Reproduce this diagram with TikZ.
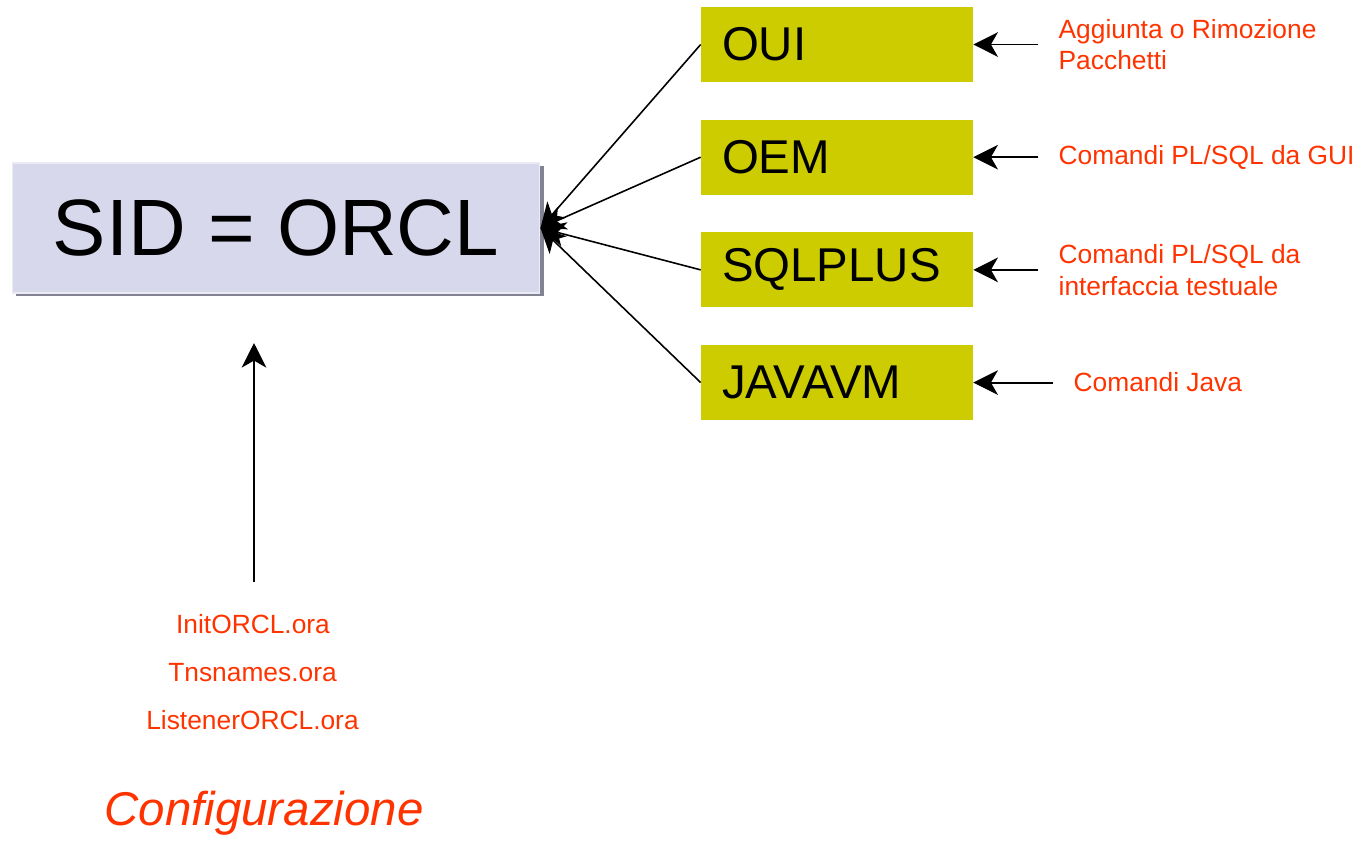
\documentclass[tikz,border=0pt]{standalone}
\usepackage{fontspec}
\setmainfont{Liberation Sans}
\usetikzlibrary{arrows.meta,positioning,shadows}
\definecolor{sidfill}{HTML}{D8D8EC}
\definecolor{sidshade}{HTML}{828292}
\definecolor{toolfill}{HTML}{CCCC00}
\definecolor{notered}{HTML}{FF3300}
\tikzset{>={Stealth[length=14pt,width=14pt,inset=4pt]}}

\begin{document}
\begin{tikzpicture}[x=0.02cm,y=-0.02cm,
  sidbox/.style={fill=sidfill, draw=sidfill!50!white, line width=0.6pt, minimum width=10.56cm, minimum height=2.6cm,
    font=\fontsize{45.5}{54}\selectfont,
    drop shadow={shadow xshift=0.08cm, shadow yshift=-0.06cm, fill=sidshade, opacity=1}},
  toolbox/.style={fill=toolfill, minimum height=1.5cm, inner xsep=0.42cm, text width=4.6cm, align=left,
    font=\fontsize{27}{32}\selectfont},
  note/.style={text=notered, inner xsep=0.4cm, inner ysep=0pt, align=left, font=\fontsize{15}{18}\selectfont},
  cfg/.style={text=notered, anchor=base, font=\fontsize{15}{18}\selectfont}]

\useasboundingbox (0,0) rectangle (1367,840);

\node[sidbox] (sid) at (276,228) {SID = ORCL};

\node[toolbox] (oui) at (837,44.5) {OUI};
\node[toolbox, below=0.74cm of oui] (oem) {OEM};
\node[toolbox, below=0.74cm of oem] (sqlplus) {SQLPLUS};
\node[toolbox, below=0.74cm of sqlplus] (javavm) {JAVAVM};

\node[note, right=1.3cm of oui] (pkg) {Aggiunta o Rimozione\\Pacchetti};
\node[note, right=1.3cm of oem] (gui) {Comandi PL/SQL da GUI};
\node[note, right=1.3cm of sqlplus] (txt) {Comandi PL/SQL da\\interfaccia testuale};
\node[note, right=1.6cm of javavm] (java) {Comandi Java};

% tools feeding the instance
\foreach \t in {oui,oem,sqlplus,javavm}
  \draw[->, line width=0.9pt] (\t.west) -- (sid.east);

\draw[->, line width=1.1pt] (pkg.west) -- (oui.east);
\draw[->, line width=1.1pt] (gui.west) -- (oem.east);
\draw[->, line width=1.1pt] (txt.west) -- (sqlplus.east);
\draw[->, line width=1.1pt] (java.west) -- (javavm.east);

\node[cfg] (init) at (253,633) {InitORCL.ora};
\node[cfg] (tns) at (252.5,681) {Tnsnames.ora};
\node[cfg] (lsn) at (252.5,729) {ListenerORCL.ora};
\node[cfg, font=\fontsize{27}{32}\selectfont\itshape] (conf) at (264,825) {Configurazione};

\coordinate (cfgtop) at (254,582);
\coordinate (sidin) at (254,343);
\draw[->, line width=1.1pt] (cfgtop) -- (sidin);

\end{tikzpicture}
\end{document}
